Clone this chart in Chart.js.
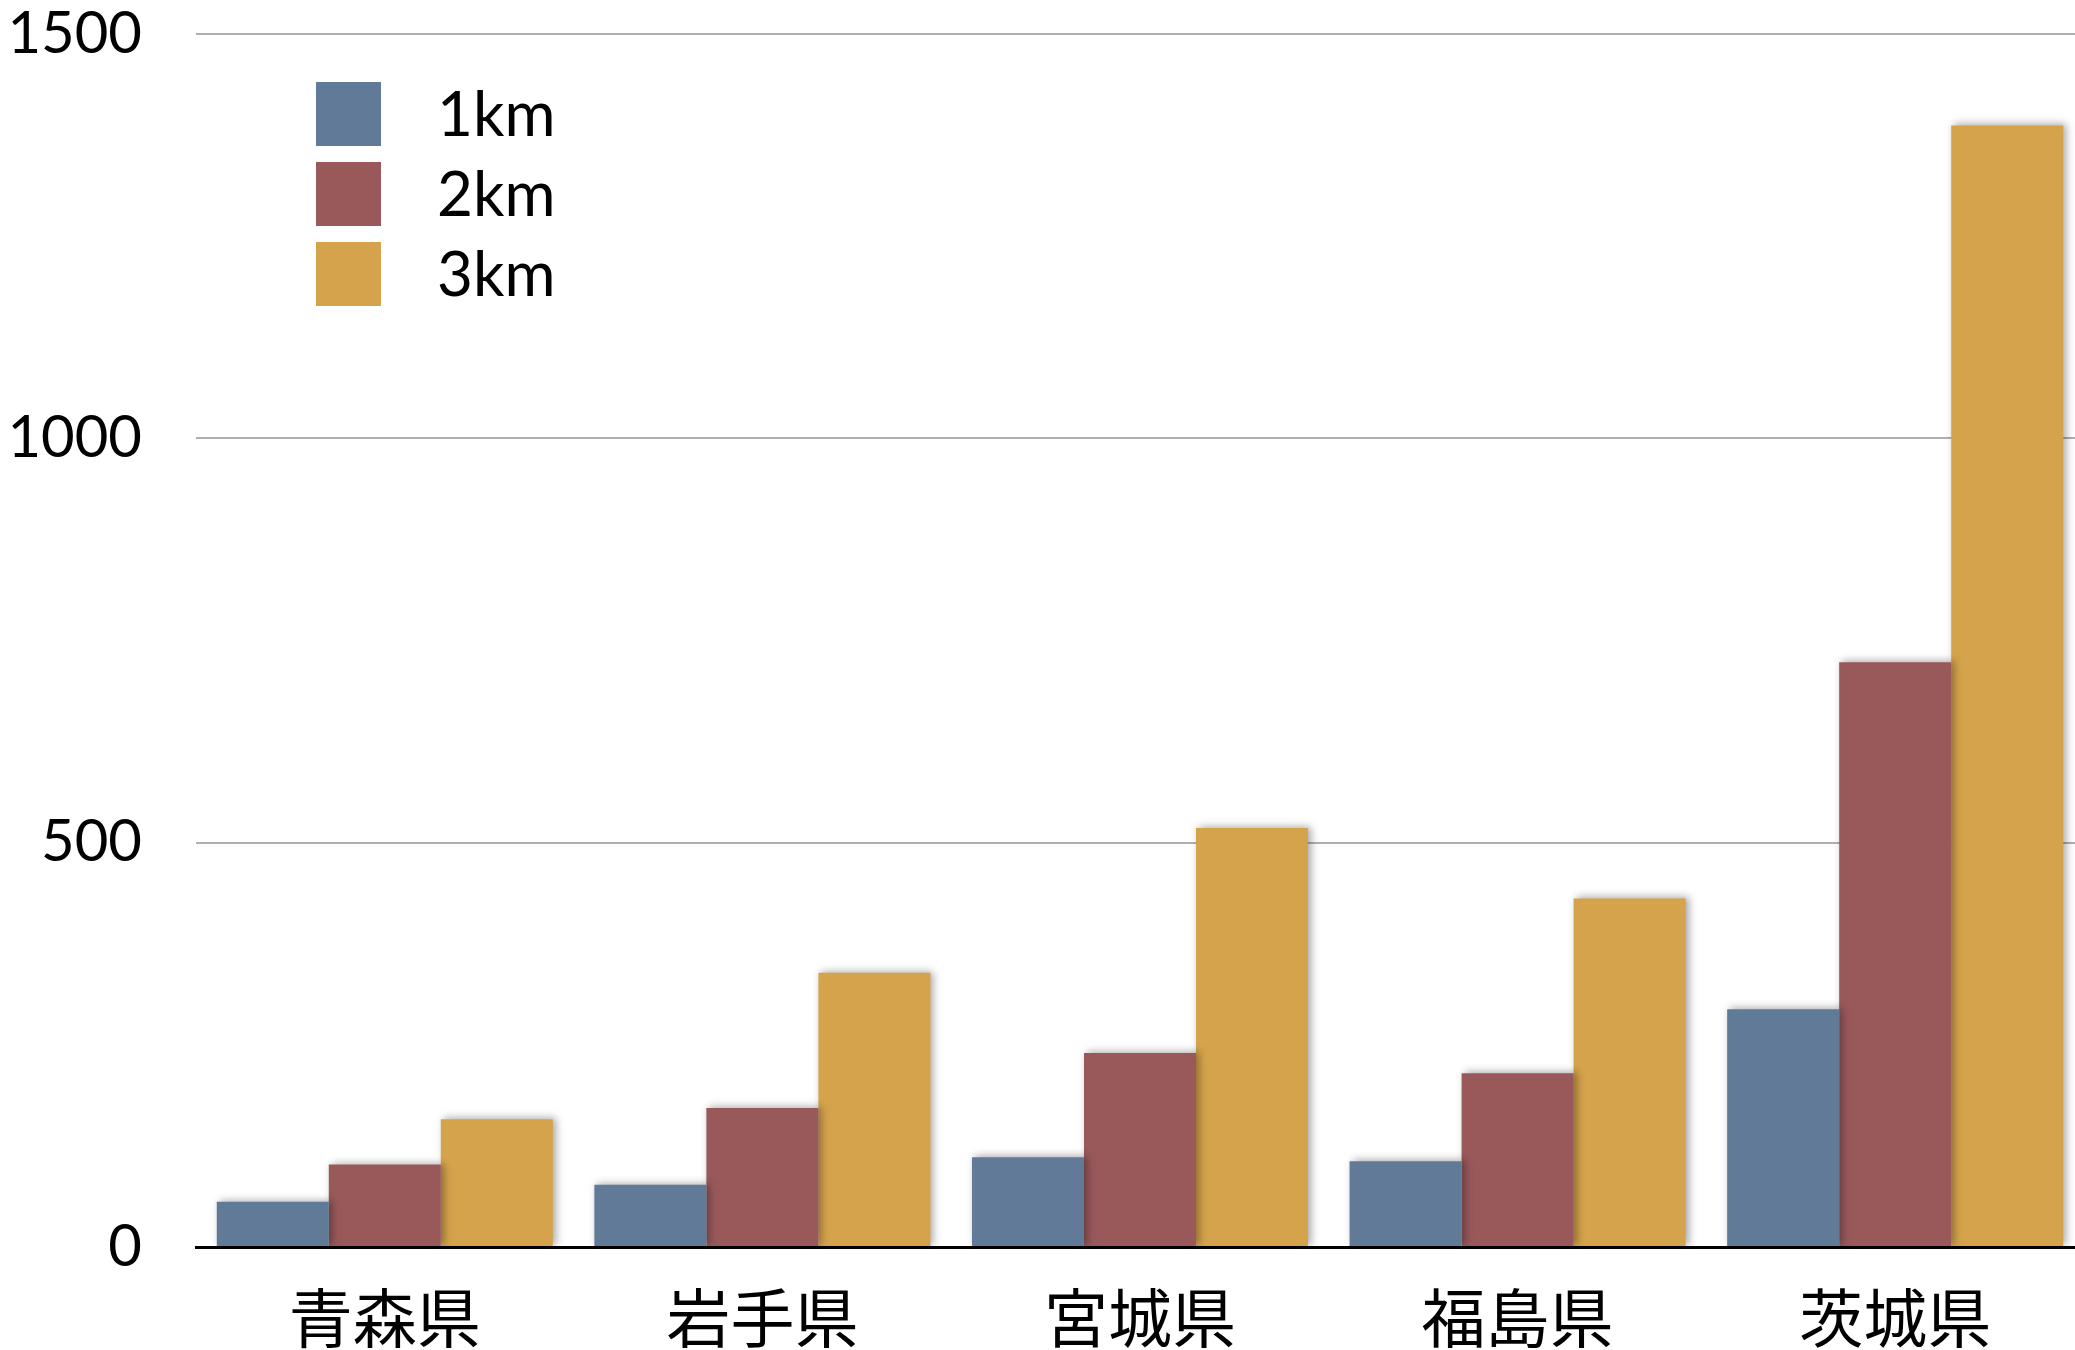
<!DOCTYPE html>
<html>
<head>
<meta charset="utf-8">
<script src="https://cdn.jsdelivr.net/npm/chart.js@4"></script>
<style>
  html, body { margin: 0; padding: 0; background: #fff; overflow: hidden; }
  #wrap { width: 2084px; height: 1350px; position: relative; }
</style>
</head>
<body>
<div id="wrap"><canvas id="myChart"></canvas></div>
<script>
const prefectures = ['青森県', '岩手県', '宮城県', '福島県', '茨城県'];
const seriesNames = ['1km', '2km', '3km'];
const km1 = [56, 77, 111, 106, 294];
const km2 = [102, 172, 240, 215, 723];
const km3 = [158, 339, 518, 431, 1387];
const yTicks = [0, 500, 1000, 1500];
const colors = ['rgb(96, 122, 152)', 'rgb(153, 89, 91)', 'rgb(212, 163, 76)'];

// soft shadow on the right of each bar
const barShadow = {
  id: 'barShadow',
  beforeDatasetsDraw(chart) {
    const c = chart.ctx;
    c.save();
    c.shadowColor = 'rgba(0,0,0,0.35)';
    c.shadowBlur = 8;
    c.shadowOffsetX = 3;
    c.shadowOffsetY = -1;
  },
  afterDatasetsDraw(chart) {
    chart.ctx.restore();
  }
};

// legend box in the upper left of the plot
const boxLegend = {
  id: 'boxLegend',
  afterDraw(chart) {
    const c = chart.ctx;
    c.save();
    chart.data.datasets.forEach((ds, i) => {
      const top = 82 + i * 80;
      c.fillStyle = ds.backgroundColor;
      c.fillRect(316, top, 65, 64);
      c.fillStyle = '#000';
      c.font = '62px Lato';
      c.textBaseline = 'middle';
      c.textAlign = 'left';
      c.fillText(ds.label, 437, top + 34);
    });
    c.restore();
  }
};

const ctx = document.getElementById('myChart');
new Chart(ctx, {
  type: 'bar',
  data: {
    labels: prefectures,
    datasets: [
      { label: seriesNames[0], data: km1, backgroundColor: colors[0] },
      { label: seriesNames[1], data: km2, backgroundColor: colors[1] },
      { label: seriesNames[2], data: km3, backgroundColor: colors[2] }
    ]
  },
  options: {
    responsive: true,
    maintainAspectRatio: false,
    animation: false,
    devicePixelRatio: 1,
    layout: { padding: { top: 34, left: 0, right: 0, bottom: 0 } },
    plugins: {
      legend: { display: false },
      tooltip: { enabled: false }
    },
    datasets: {
      bar: { categoryPercentage: 0.89, barPercentage: 1.0 }
    },
    scales: {
      x: {
        grid: { display: false, drawTicks: false },
        border: { display: true, color: '#000', width: 3 },
        ticks: {
          color: '#000',
          padding: 32,
          font: { family: "'Noto Sans CJK JP'", size: 64, lineHeight: 1.2 },
          maxRotation: 0
        },
        afterFit(scale) {
          scale.height = 103;
          scale.paddingLeft = 0;
          scale.paddingRight = 0;
        }
      },
      y: {
        min: 0,
        max: 1500,
        afterBuildTicks(scale) {
          scale.ticks = yTicks.map(v => ({ value: v }));
        },
        grid: {
          drawTicks: false,
          color: '#b0b0b0',
          lineWidth: 2
        },
        border: { display: false },
        ticks: {
          color: '#000',
          padding: 54,
          font: { family: 'Lato', size: 58, lineHeight: 1 },
          callback: v => String(v)
        },
        afterFit(scale) {
          scale.width = 196;
          scale.paddingTop = 0;
          scale.paddingBottom = 0;
        }
      }
    }
  },
  plugins: [barShadow, boxLegend]
});
</script>
</body>
</html>
